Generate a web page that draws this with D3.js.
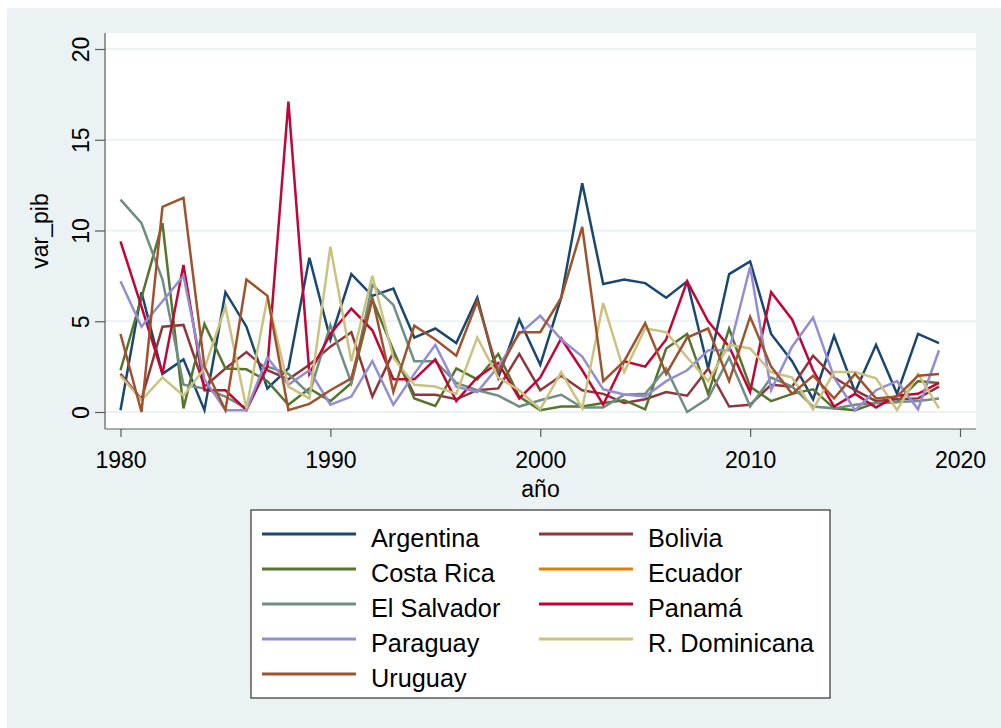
<!DOCTYPE html>
<html>
<head>
<meta charset="utf-8">
<script src="https://cdn.jsdelivr.net/npm/d3@7"></script>
<style>
  html, body { margin: 0; padding: 0; background: #ffffff; }
  svg { display: block; }
  text { font-family: "Liberation Sans", Arial, Helvetica, sans-serif; fill: #000; }
</style>
</head>
<body>
<svg id="chart" width="1001" height="728"></svg>
<script>
// Annual GDP variation by country, 1980-2019
const years = d3.range(1980, 2020);

const countries = ["Argentina", "Bolivia", "Costa Rica", "Ecuador", "El Salvador",
                   "Panamá", "Paraguay", "R. Dominicana", "Uruguay"];

const argentina = [0.1, 6.6, 2.1, 2.9, 0.1, 6.6, 4.7, 1.3, 2.4, 8.5,
                   4.0, 7.6, 6.4, 6.8, 4.1, 4.6, 3.8, 6.3, 1.9, 5.1,
                   2.6, 6.3, 12.6, 7.05, 7.3, 7.1, 6.3, 7.2, 2.4, 7.6,
                   8.3, 4.3, 2.8, 0.7, 4.2, 1.1, 3.7, 1.0, 4.3, 3.8];
const bolivia = [2.1, 0.7, 4.7, 4.8, 1.4, 2.4, 3.3, 2.3, 1.8, 2.6,
                 3.6, 4.4, 0.85, 3.3, 0.95, 0.95, 0.7, 1.2, 1.3, 3.2,
                 1.2, 2.0, 1.2, 1.0, 0.5, 0.7, 1.1, 0.9, 2.4, 0.3,
                 0.4, 1.5, 1.4, 3.1, 1.9, 1.2, 0.6, 0.7, 0.75, 1.4];
const costaRica = [2.3, 6.3, 10.4, 0.2, 4.85, 2.4, 2.35, 1.7, 0.4, 1.3,
                   0.6, 1.6, 6.2, 3.4, 0.75, 0.33, 2.4, 1.8, 3.2, 0.85,
                   0.1, 0.3, 0.3, 0.5, 0.65, 0.15, 3.5, 4.3, 1.0, 4.6,
                   1.4, 0.6, 1.0, 1.25, 0.2, 0.1, 0.5, 0.55, 1.7, 1.6];
const ecuador = [];
const elSalvador = [11.7, 10.4, 7.3, 1.5, 1.3, 0.85, 0.2, 2.5, 2.1, 1.0,
                    4.8, 1.6, 7.0, 5.9, 2.8, 2.8, 1.6, 1.2, 0.9, 0.3,
                    0.65, 0.95, 0.25, 0.25, 0.95, 1.0, 2.4, 0.0, 0.75, 3.0,
                    0.3, 1.9, 1.4, 0.3, 0.2, 0.4, 0.5, 0.55, 0.6, 0.75];
const panama = [9.4, 5.8, 2.1, 8.1, 1.2, 1.2, 0.1, 2.5, 17.1, 2.1,
                4.3, 5.7, 4.5, 1.8, 1.8, 2.9, 0.6, 1.9, 2.7, 0.75,
                1.9, 4.05, 2.3, 0.4, 2.8, 2.5, 4.0, 7.2, 5.0, 3.6,
                1.1, 6.6, 5.1, 2.3, 0.3, 1.0, 0.25, 0.9, 1.0, 1.6];
const paraguay = [7.2, 4.7, 6.1, 7.5, 1.8, 0.1, 0.1, 3.0, 1.5, 2.3,
                  0.4, 0.85, 2.8, 0.4, 2.1, 3.7, 1.4, 1.1, 2.5, 4.3,
                  5.3, 4.0, 3.05, 1.25, 0.97, 0.85, 1.7, 2.3, 3.4, 3.4,
                  8.0, 1.2, 3.6, 5.2, 1.9, 0.1, 1.2, 1.7, 0.15, 3.4];
const rDominicana = [2.0, 0.65, 1.9, 0.9, 2.4, 5.8, 0.2, 6.3, 1.4, 0.75,
                     9.1, 2.8, 7.5, 3.0, 1.5, 1.4, 1.0, 4.1, 1.9, 1.2,
                     0.15, 2.2, 0.2, 6.0, 2.2, 4.6, 4.4, 3.0, 1.7, 3.7,
                     3.5, 2.2, 1.9, 0.15, 2.2, 2.2, 1.85, 0.1, 2.1, 0.2];
const uruguay = [4.3, 0.0, 11.3, 11.8, 2.5, 0.1, 7.3, 6.4, 0.1, 0.45,
                 1.2, 1.85, 6.3, 1.1, 4.75, 4.0, 3.1, 6.1, 2.2, 4.4,
                 4.4, 6.3, 10.2, 1.7, 2.8, 4.9, 2.1, 4.1, 4.6, 1.7,
                 5.25, 2.5, 1.0, 2.0, 0.75, 2.1, 0.75, 0.85, 2.0, 2.1];

const seriesValues = [argentina, bolivia, costaRica, ecuador, elSalvador,
                      panama, paraguay, rDominicana, uruguay];
const colors = ["#1a476f", "#90353b", "#55752f", "#e37e00", "#6e8e84",
                "#c10534", "#938dd2", "#cac27e", "#a0522d"];

const yTicks = [0, 5, 10, 15, 20];
const xTicks = [1980, 1990, 2000, 2010, 2020];

const svg = d3.select("#chart");

// outer graph region
svg.append("rect").attr("x", 7).attr("y", 8).attr("width", 994).attr("height", 720)
  .attr("fill", "#eaf2f3");

// plot region
const plot = { left: 105, right: 976, top: 33, bottom: 429 };
svg.append("rect").attr("x", plot.left).attr("y", plot.top)
  .attr("width", plot.right - plot.left).attr("height", plot.bottom - plot.top)
  .attr("fill", "#ffffff");

const x = d3.scaleLinear().domain([1980, 2020]).range([120.5, 960]);
const y = d3.scaleLinear().domain([0, 20]).range([412, 49]);

// horizontal grid lines
svg.append("g").selectAll("line").data(yTicks).join("line")
  .attr("x1", plot.left).attr("x2", plot.right)
  .attr("y1", d => y(d)).attr("y2", d => y(d))
  .attr("stroke", "#eaf2f3").attr("stroke-width", 2.2);

// series lines
const line = d3.line().x((d, i) => x(years[i])).y(d => y(d));
const lines = svg.append("g").attr("fill", "none")
  .attr("stroke-width", 2.5).attr("stroke-linejoin", "miter");
countries.forEach((c, k) => {
  if (seriesValues[k].length === 0) return;
  lines.append("path").datum(seriesValues[k])
    .attr("d", line).attr("stroke", colors[k]);
});

// y axis
const yAxis = d3.axisLeft(y).tickValues(yTicks).tickSize(10).tickPadding(0).tickFormat(d3.format("d"));
const gy = svg.append("g").attr("transform", `translate(${plot.left},0)`).call(yAxis);
gy.select(".domain").attr("d", `M0,${plot.top}V${plot.bottom}`).attr("stroke", "#5a5a5a").attr("stroke-width", 1.2);
gy.selectAll(".tick line").attr("stroke", "#5a5a5a").attr("stroke-width", 1.2);
gy.selectAll(".tick text")
  .attr("x", null).attr("dy", null)
  .attr("transform", "translate(-16,0) rotate(-90)")
  .attr("text-anchor", "middle")
  .attr("font-size", 23)
  .attr("fill", "#000");

// x axis
const xAxis = d3.axisBottom(x).tickValues(xTicks).tickSize(8).tickPadding(0).tickFormat(d3.format("d"));
const gx = svg.append("g").attr("transform", `translate(0,${plot.bottom})`).call(xAxis);
gx.select(".domain").attr("d", `M${plot.left},0H${plot.right}`).attr("stroke", "#5a5a5a").attr("stroke-width", 1.2);
gx.selectAll(".tick line").attr("stroke", "#5a5a5a").attr("stroke-width", 1.2);
gx.selectAll(".tick text")
  .attr("y", 39).attr("dy", null)
  .attr("font-size", 23)
  .attr("fill", "#000");

// axis titles
svg.append("text").attr("x", (plot.left + plot.right) / 2).attr("y", 497)
  .attr("text-anchor", "middle").attr("font-size", 23).text("año");
svg.append("text").attr("transform", `translate(48,${(plot.top + plot.bottom) / 2}) rotate(-90)`)
  .attr("text-anchor", "middle").attr("font-size", 23).text("var_pib");

// legend
const legend = svg.append("g");
legend.append("rect").attr("x", 251).attr("y", 510).attr("width", 579).attr("height", 188)
  .attr("fill", "#ffffff").attr("stroke", "#333333").attr("stroke-width", 1.2);
const colX = [262, 539];
const rowY0 = 534, rowStep = 35;
countries.forEach((c, k) => {
  const col = k % 2, row = Math.floor(k / 2);
  const ly = rowY0 + row * rowStep;
  legend.append("line").attr("x1", colX[col]).attr("x2", colX[col] + 94)
    .attr("y1", ly).attr("y2", ly)
    .attr("stroke", colors[k]).attr("stroke-width", 3);
  legend.append("text").attr("x", colX[col] + 109).attr("y", ly + 12.5)
    .attr("font-size", 25.3).text(c);
});
</script>
</body>
</html>
